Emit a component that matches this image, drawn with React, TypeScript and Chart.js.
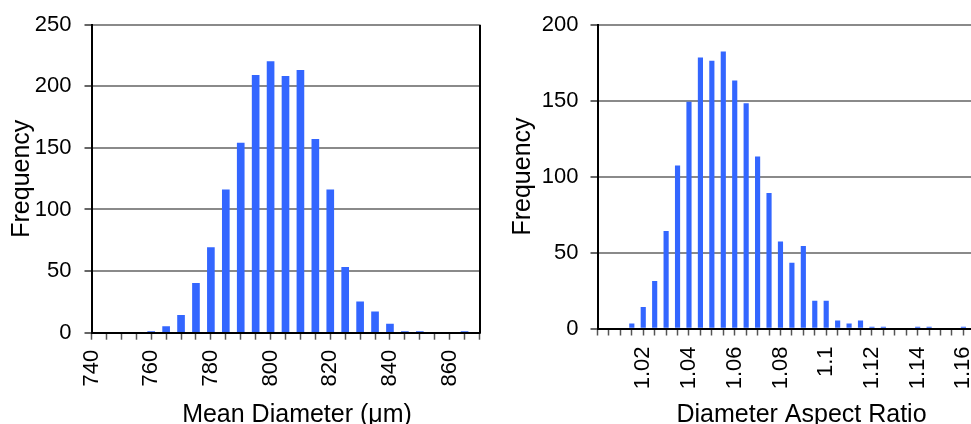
import React, { useEffect, useRef } from 'react';
import { Chart, registerables } from 'chart.js';

Chart.register(...registerables);

const FONT = '"Liberation Sans", Arial, Helvetica, sans-serif';

// ---- Left chart: Mean Diameter histogram ----
const diameterBins = [740, 745, 750, 755, 760, 765, 770, 775, 780, 785, 790, 795, 800, 805, 810, 815, 820, 825, 830, 835, 840, 845, 850, 855, 860, 865];
const diameterFreq = [0, 0, 0, 0, 1, 5, 14, 40, 69, 116, 154, 209, 220, 208, 213, 157, 116, 53, 25, 17, 7, 1, 1, 0, 0, 1];
const diameterTickLabels = ['740', '760', '780', '800', '820', '840', '860'];

// ---- Right chart: Diameter Aspect Ratio histogram ----
const aspectBins = [1.0, 1.005, 1.01, 1.015, 1.02, 1.025, 1.03, 1.035, 1.04, 1.045, 1.05, 1.055, 1.06, 1.065, 1.07, 1.075, 1.08, 1.085, 1.09, 1.095, 1.1, 1.105, 1.11, 1.115, 1.12, 1.125, 1.13, 1.135, 1.14, 1.145, 1.15, 1.155, 1.16, 1.165];
const aspectFreq = [0, 0, 0, 3, 14, 31, 64, 107, 149, 178, 176, 182, 163, 148, 113, 89, 57, 43, 54, 18, 18, 5, 3, 5, 1, 1, 0, 0, 1, 1, 0, 0, 1, 0];
const aspectTickLabels = ['1.02', '1.04', '1.06', '1.08', '1.1', '1.12', '1.14', '1.16'];

const BAR_COLOR = '#3366ff';

const decorations = {
  id: 'decorations',
  afterDraw(chart: any, _args: any, opts: any) {
    const ctx = chart.ctx;
    const a = chart.chartArea;
    ctx.save();
    if (opts.rightBorder) {
      ctx.strokeStyle = '#000';
      ctx.lineWidth = 2;
      ctx.beginPath();
      ctx.moveTo(Math.round(a.right), a.top);
      ctx.lineTo(Math.round(a.right), a.bottom + 1);
      ctx.stroke();
    }
    ctx.fillStyle = '#000';
    ctx.font = `25px ${FONT}`;
    ctx.textAlign = 'center';
    ctx.textBaseline = 'alphabetic';
    ctx.fillText(opts.xTitle, opts.xTitleX, opts.xTitleY);
    ctx.translate(opts.yTitleX, opts.yTitleY);
    ctx.rotate(-Math.PI / 2);
    ctx.fillText(opts.yTitle, 0, 0);
    ctx.restore();
  },
};

function makeConfig(p: any): any {
  return {
    type: 'bar',
    data: {
      datasets: [
        {
          data: p.bins.map((b: number, i: number) => ({ x: b, y: p.freq[i] })),
          backgroundColor: BAR_COLOR,
          borderWidth: 0,
          barThickness: p.barThickness,
        },
      ],
    },
    plugins: [decorations],
    options: {
      responsive: false,
      animation: false,
      devicePixelRatio: 1,
      layout: { padding: p.padding },
      plugins: {
        legend: { display: false },
        tooltip: { enabled: false },
        decorations: p.deco,
      },
      scales: {
        x: {
          type: 'linear',
          offset: false,
          min: p.xMin,
          max: p.xMax,
          afterFit: (s: any) => {
            s.height = p.xHeight;
            s.paddingLeft = 0;
            s.paddingRight = 0;
          },
          grid: {
            offset: false,
            display: true,
            drawOnChartArea: false,
            drawTicks: true,
            tickLength: 7,
            tickColor: '#555',
            tickWidth: 1.5,
          },
          border: { display: true, color: '#000', width: 2, z: 1 },
          ticks: {
            stepSize: p.xStep,
            autoSkip: false,
            minRotation: 90,
            maxRotation: 90,
            padding: p.xPad,
            color: '#000',
            font: { family: FONT, size: 22 },
            callback: (v: number) => {
              const hit = p.tickLabels.find((l: string) => Math.abs(Number(l) - v) < 1e-6);
              return hit ?? '';
            },
          },
        },
        y: {
          type: 'linear',
          min: 0,
          max: p.yMax,
          afterFit: (s: any) => {
            s.width = p.yWidth;
            s.paddingTop = 0;
            s.paddingBottom = 0;
          },
          grid: {
            color: '#8a8a8a',
            lineWidth: 2,
            tickLength: 7,
            tickColor: '#333',
            tickWidth: 1.5,
          },
          border: { display: true, color: '#000', width: 2, z: 1 },
          ticks: {
            stepSize: p.yStep,
            padding: p.yPad,
            color: '#000',
            font: { family: FONT, size: 22 },
          },
        },
      },
    },
  };
}

function Histogram(props: { config: any; width: number; height: number }) {
  const ref = useRef<HTMLCanvasElement | null>(null);
  useEffect(() => {
    if (!ref.current) return;
    const chart = new Chart(ref.current, props.config);
    return () => chart.destroy();
  }, []);
  return <canvas ref={ref} width={props.width} height={props.height} style={{ display: 'block', width: props.width, height: props.height }} />;
}

export default function App() {
  const leftConfig = makeConfig({
    bins: diameterBins,
    freq: diameterFreq,
    tickLabels: diameterTickLabels,
    xMin: 740,
    xMax: 870,
    xStep: 5,
    yMax: 250,
    yStep: 50,
    barThickness: 7,
    padding: { top: 24.7, right: 10.5, bottom: 0, left: 0 },
    yWidth: 91.5,
    xHeight: 424 - 332.7,
    xPad: 10,
    yPad: 13,
    deco: {
      rightBorder: true,
      xTitle: 'Mean Diameter (\u03bcm)',
      xTitleX: 297,
      xTitleY: 421.5,
      yTitle: 'Frequency',
      yTitleX: 29,
      yTitleY: 178.7,
    },
  });
  const rightConfig = makeConfig({
    bins: aspectBins,
    freq: aspectFreq,
    tickLabels: aspectTickLabels,
    xMin: 1.0,
    xMax: 1.17,
    xStep: 0.005,
    yMax: 200,
    yStep: 50,
    barThickness: 4.5,
    padding: { top: 24.5, right: 13.7, bottom: 0, left: 0 },
    yWidth: 107.5,
    xHeight: 424 - 328.5,
    xPad: 11,
    yPad: 12,
    deco: {
      rightBorder: false,
      xTitle: 'Diameter Aspect Ratio',
      xTitleX: 311.5,
      xTitleY: 421.5,
      yTitle: 'Frequency',
      yTitleX: 40,
      yTitleY: 176.5,
    },
  });
  return (
    <div style={{ position: 'fixed', left: 0, top: 0, width: 971, height: 424, overflow: 'hidden', background: '#fff' }}>
      <div style={{ position: 'absolute', left: 0, top: 0, width: 490, height: 424 }}>
        <Histogram config={leftConfig} width={490} height={424} />
      </div>
      <div style={{ position: 'absolute', left: 490, top: 0, width: 510, height: 424 }}>
        <Histogram config={rightConfig} width={510} height={424} />
      </div>
    </div>
  );
}
